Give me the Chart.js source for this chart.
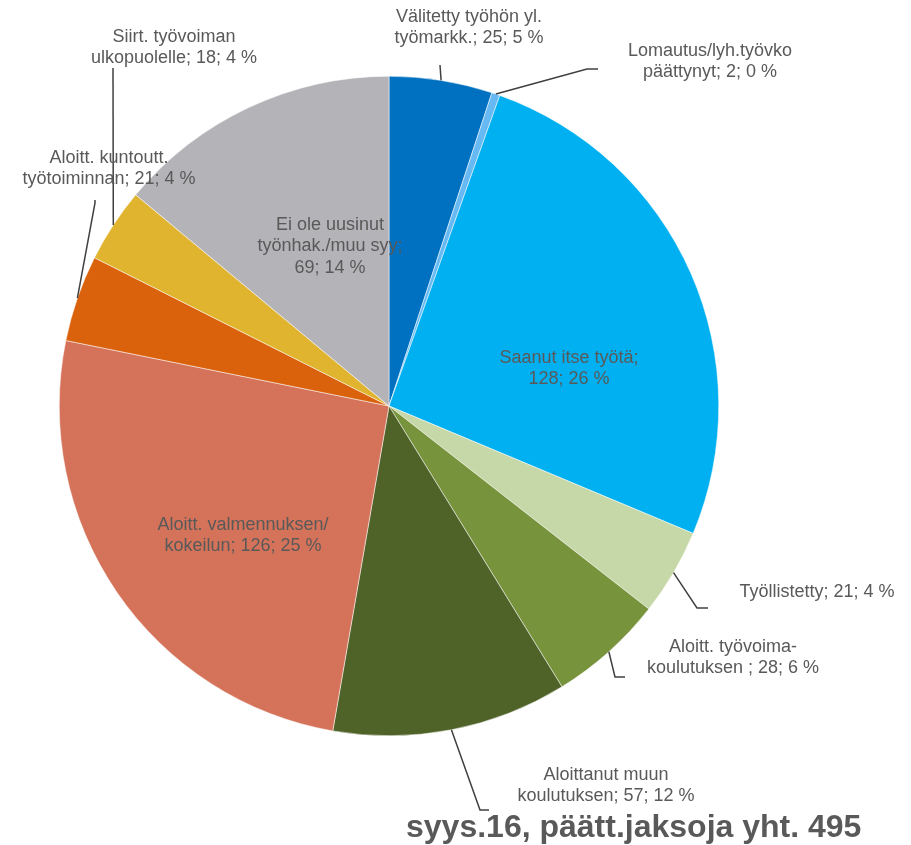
<!DOCTYPE html>
<html>
<head>
<meta charset="utf-8">
<script src="https://cdn.jsdelivr.net/npm/chart.js@4"></script>
<style>
  html, body { margin: 0; padding: 0; background: #fff; }
  #wrap { width: 911px; height: 845px; }
</style>
</head>
<body>
<div id="wrap"><canvas id="pie"></canvas></div>
<script>
// slice names, one per slice (clockwise from 12 o'clock)
const labels = [
    ['Välitetty työhön yl.', 'työmarkk.'],
    ['Lomautus/lyh.työvko', 'päättynyt'],
    ['Saanut itse työtä'],
    ['Työllistetty'],
    ['Aloitt. työvoima-', 'koulutuksen '],
    ['Aloittanut muun', 'koulutuksen'],
    ['Aloitt. valmennuksen/', 'kokeilun'],
    ['Aloitt. kuntoutt.', 'työtoiminnan'],
    ['Siirt. työvoiman', 'ulkopuolelle'],
    ['Ei ole uusinut', 'työnhak./muu syy']
];
// persons per ended period
const values = [25, 2, 128, 21, 28, 57, 126, 21, 18, 69];
const percents = [5, 0, 26, 4, 6, 12, 25, 4, 4, 14];
const total = 495;

const colors = ['#0070C0', '#66B9F2', '#00B0F0', '#C6D8A8', '#77933C',
                '#4F6228', '#D5735A', '#DA620D', '#E0B42E', '#B4B4B8'];

// where each label goes: text centre, extra line breaks and leader bends
// leader starts on the rim at the slice middle, then goes through pts
const labelLayout = [
    { x: 469, y: 17, pts: [[440, 65]] },
    { x: 710, y: 51, pts: [[587, 69], [598, 69]] },
    { x: 569, y: 358, inside: true },
    { x: 817, y: 592, oneLine: true, pts: [[697, 608], [708, 608]] },
    { x: 733, y: 647, pts: [[615, 677], [625, 677]] },
    { x: 606, y: 775, pts: [[480, 810], [489, 810]] },
    { x: 243, y: 525, inside: true },
    { x: 109, y: 158, pts: [[95, 203], [95, 200]] },
    { x: 174, y: 37, pts: [[113, 68]] },
    { x: 330, y: 225, inside: true, split3: true }
];

const textColor = '#595959';
const fontFamily = '"Liberation Sans", Arial, sans-serif';

// build the text lines of one label
function labelLines(i) {
    const name = labels[i];
    const tail = values[i] + '; ' + percents[i] + ' %';
    const lay = labelLayout[i];
    if (lay.oneLine) {
        return [name.join(' ') + '; ' + tail];
    }
    if (lay.split3) {
        // last name line gets the semicolon, numbers on own line
        return name.slice(0, -1).concat([name[name.length - 1] + ';', tail]);
    }
    if (name.length === 1) {
        return [name[0] + ';', tail];
    }
    return [name[0], name[1] + '; ' + tail];
}

const labelPlugin = {
    id: 'sliceLabels',
    afterDatasetsDraw(chart) {
        const ctx = chart.ctx;
        const meta = chart.getDatasetMeta(0);
        ctx.save();

        // leader lines
        ctx.strokeStyle = '#404040';
        ctx.lineWidth = 1.5;
        meta.data.forEach(function(arc, i) {
            const lay = labelLayout[i];
            if (!lay.pts) return;
            const mid = (arc.startAngle + arc.endAngle) / 2;
            const sx = arc.x + Math.cos(mid) * arc.outerRadius;
            const sy = arc.y + Math.sin(mid) * arc.outerRadius;
            ctx.beginPath();
            ctx.moveTo(sx, sy);
            lay.pts.forEach(function(p) { ctx.lineTo(p[0], p[1]); });
            ctx.stroke();
        });

        // label texts
        ctx.fillStyle = textColor;
        ctx.font = '18px ' + fontFamily;
        ctx.textAlign = 'center';
        ctx.textBaseline = 'middle';
        meta.data.forEach(function(arc, i) {
            const lay = labelLayout[i];
            labelLines(i).forEach(function(line, k) {
                ctx.fillText(line, lay.x, lay.y + k * 21.5);
            });
        });

        // title at bottom right
        ctx.font = 'bold 32px ' + fontFamily;
        ctx.textAlign = 'left';
        ctx.fillText('syys.16, päätt.jaksoja yht. ' + total, 406, 828);
        ctx.restore();
    }
};

const ctx = document.getElementById('pie').getContext('2d');

const pieChart = new Chart(ctx, {
    type: 'pie',
    data: {
        labels: labels.map(function(l) { return l.join(' '); }),
        datasets: [{
            data: values,
            backgroundColor: colors,
            borderColor: '#ffffff',
            borderWidth: 0.5
        }]
    },
    options: {
        responsive: true,
        maintainAspectRatio: false,
        animation: false,
        layout: {
            // centre (389, 406), radius 330
            padding: { left: 59, right: 192, top: 76, bottom: 109 }
        },
        plugins: {
            legend: { display: false },
            tooltip: { enabled: false }
        }
    },
    plugins: [labelPlugin]
});
</script>
</body>
</html>
